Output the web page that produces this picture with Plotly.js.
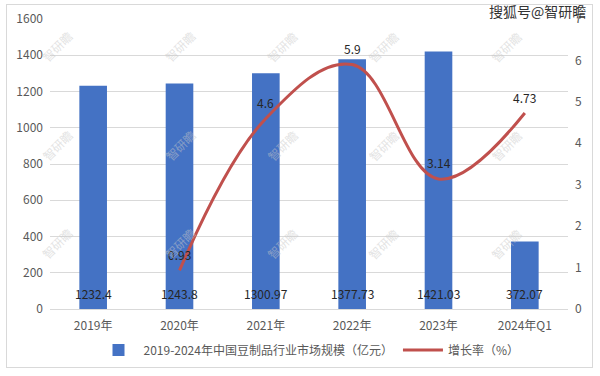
<!DOCTYPE html>
<html><head><meta charset="utf-8">
<script src="https://cdn.plot.ly/plotly-3.0.1.min.js"></script>
<style>
html,body{margin:0;padding:0;background:#fff;}
#chart{width:600px;height:376px;position:relative;}
#frame{position:absolute;left:6px;top:4px;width:587px;height:364px;border:1px solid #d9d9d9;pointer-events:none;box-sizing:border-box;}
</style></head>
<body>
<div id="chart"></div>
<div id="frame"></div>
<script>
const categories = ['2019年','2020年','2021年','2022年','2023年','2024年Q1'];
const marketSize = [1232.4, 1243.8, 1300.97, 1377.73, 1421.03, 372.07];
const growthCats = ['2020年','2021年','2022年','2023年','2024年Q1'];
const growthRate = [0.93, 4.6, 5.9, 3.14, 4.73];
const sizeName = '2019-2024年中国豆制品行业市场规模（亿元）';
const rateName = '增长率（%）';

const font = '"Noto Sans CJK SC", "Noto Sans", sans-serif';

const traces = [
  {
    type:'bar', x: categories, y: marketSize, name: sizeName,
    marker:{color:'#4472C4'}, width:0.32, hoverinfo:'x+y'
  },
  {
    type:'scatter', mode:'lines', x: growthCats, y: growthRate, name: rateName,
    yaxis:'y2', line:{color:'#C0504D', width:3, shape:'spline', smoothing:1.1}
  }
];

const annotations = [];
// bar value labels near the base of each bar
categories.forEach((c, i) => {
  annotations.push({xref:'x', yref:'y', x:c, y:0, yanchor:'bottom', yshift:5,
    text:String(marketSize[i]), showarrow:false,
    font:{size:12, color:'#262626', family:font}});
});
// growth labels above points
growthCats.forEach((c, i) => {
  annotations.push({xref:'x', yref:'y2', x:c, y:growthRate[i], yanchor:'middle', yshift:16,
    text:String(growthRate[i]), showarrow:false,
    font:{size:12, color:'#262626', family:font}});
});
// watermarks
const wmX = [35,158,282,405,528];
const wmY = [25,145,265];
wmY.forEach(yy => wmX.forEach(xx => {
  annotations.push({xref:'paper', yref:'paper', x:(xx-50)/518, y:(309-yy)/290,
    text:'智研瞻', showarrow:false, textangle:-45,
    font:{size:12, color:'rgba(200,200,200,0.5)', family:font}});
}));
annotations.push({xref:'paper', yref:'paper', x:(588-50)/518, y:(309-11)/290, xanchor:'right', yanchor:'middle',
  text:'搜狐号@智研瞻', showarrow:false, font:{size:14, color:'#333', family:font}});

const layout = {
  width:600, height:376,
  margin:{l:50, r:32, t:19, b:67, autoexpand:false},
  paper_bgcolor:'rgba(0,0,0,0)', plot_bgcolor:'#fff',
  font:{family:font, color:'#595959', size:12},
  showlegend:true,
  legend:{orientation:'h', x:0.5, xanchor:'center', y:-0.141, yanchor:'middle',
    font:{size:12, color:'#595959', family:font}, traceorder:'normal', itemwidth:40},
  xaxis:{type:'category', tickfont:{size:12, color:'#595959'}, showline:false, ticks:'',
    categoryorder:'array', categoryarray:categories, automargin:false, ticklabelstandoff:8},
  yaxis:{range:[0,1600], dtick:200, gridcolor:'#d9d9d9', zeroline:true, zerolinecolor:'#d9d9d9',
    tickfont:{size:12, color:'#595959'}, ticklabelstandoff:6, automargin:false},
  yaxis2:{overlaying:'y', side:'right', range:[0,7], dtick:1, showgrid:false, zeroline:false,
    tickfont:{size:12, color:'#595959'}, ticklabelstandoff:6, automargin:false},
  annotations: annotations
};

Plotly.newPlot('chart', traces, layout, {displayModeBar:false, responsive:false});
</script>
</body></html>
